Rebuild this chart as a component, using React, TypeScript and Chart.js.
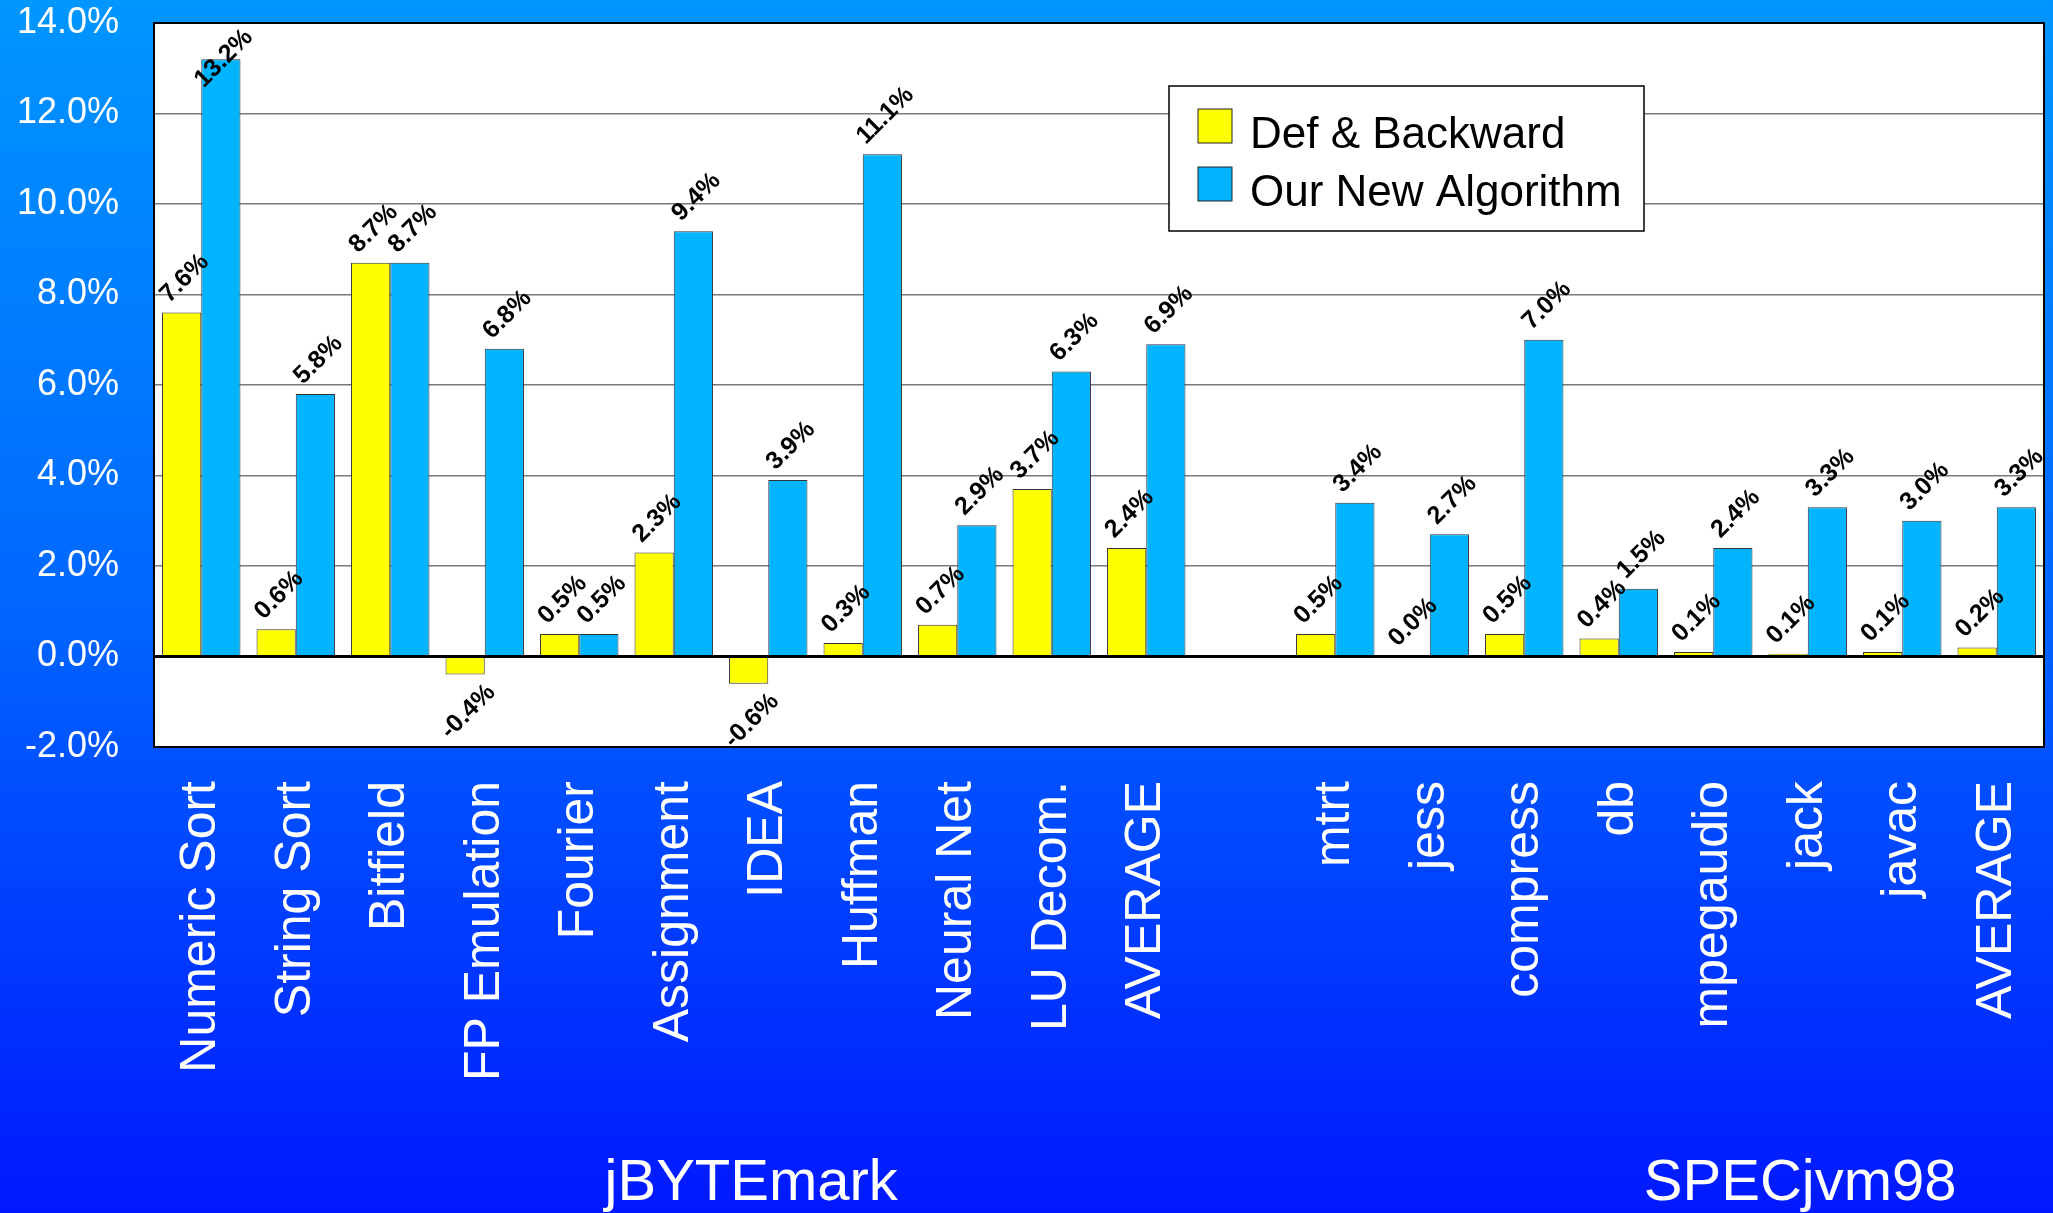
import { useEffect, useRef } from 'react';
import { Chart, registerables } from 'chart.js';

Chart.register(...registerables);

const categories = [
  'Numeric Sort', 'String Sort', 'Bitfield', 'FP Emulation', 'Fourier', 'Assignment', 'IDEA',
  'Huffman', 'Neural Net', 'LU Decom.', 'AVERAGE', '', 'mtrt', 'jess', 'compress', 'db',
  'mpegaudio', 'jack', 'javac', 'AVERAGE',
];
const defBackward = [7.6, 0.6, 8.7, -0.4, 0.5, 2.3, -0.6, 0.3, 0.7, 3.7, 2.4, null, 0.5, 0.0, 0.5, 0.4, 0.1, 0.06, 0.1, 0.2];
const ourNewAlgorithm = [13.2, 5.8, 8.7, 6.8, 0.5, 9.4, 3.9, 11.1, 2.9, 6.3, 6.9, null, 3.4, 2.7, 7.0, 1.5, 2.4, 3.3, 3.0, 3.3];
const seriesNames = ['Def & Backward', 'Our New Algorithm'];
const seriesColors = ['#FFFF00', '#00B4FF'];
const groupLabels = ['jBYTEmark', 'SPECjvm98'];
const yMin = -2;
const yMax = 14;
const yStep = 2;

const FONT = "'Liberation Sans', Arial, sans-serif";

const backgroundPlugin = {
  id: 'bgPlugin',
  beforeDraw(chart: any) {
    const { ctx, width, height, chartArea } = chart;
    ctx.save();
    const g = ctx.createLinearGradient(0, 0, 0, height);
    g.addColorStop(0, '#0096FF');
    g.addColorStop(0.5, '#0066FF');
    g.addColorStop(1, '#0018FF');
    ctx.fillStyle = g;
    ctx.fillRect(0, 0, width, height);
    ctx.fillStyle = '#FFFFFF';
    ctx.fillRect(chartArea.left, chartArea.top, chartArea.right - chartArea.left, chartArea.bottom - chartArea.top);
    ctx.restore();
  },
};

const labelsPlugin = {
  id: 'labelsPlugin',
  afterDatasetsDraw(chart: any) {
    const { ctx, chartArea } = chart;
    ctx.save();
    ctx.font = `bold 25px ${FONT}`;
    ctx.fillStyle = '#000000';
    ctx.textAlign = 'center';
    ctx.textBaseline = 'middle';
    chart.data.datasets.forEach((ds: any, di: number) => {
      const meta = chart.getDatasetMeta(di);
      meta.data.forEach((bar: any, i: number) => {
        const v = ds.data[i];
        if (v === null || v === undefined) return;
        const text = v.toFixed(1) + '%';
        const w = ctx.measureText(text).width;
        const half = (w + 18) * 0.354;
        let cy;
        if (v >= 0) {
          cy = bar.y - 14 - w * 0.354;
          cy = Math.max(cy, chartArea.top + half + 4);
        } else {
          cy = bar.y + 14 + w * 0.354;
        }
        const cx = bar.x + 3;
        ctx.save();
        ctx.translate(cx, cy);
        ctx.rotate(-Math.PI / 4);
        ctx.fillText(text, 0, 0);
        ctx.restore();
      });
    });
    ctx.restore();
  },
};

const overlayPlugin = {
  id: 'overlayPlugin',
  afterDraw(chart: any) {
    const { ctx, chartArea } = chart;
    ctx.save();
    ctx.strokeStyle = '#000000';
    ctx.lineWidth = 2;
    ctx.strokeRect(chartArea.left, chartArea.top, chartArea.right - chartArea.left, chartArea.bottom - chartArea.top);

    const lx = 1169, ly = 86, lw = 475, lh = 145;
    ctx.fillStyle = '#FFFFFF';
    ctx.fillRect(lx, ly, lw, lh);
    ctx.lineWidth = 1.5;
    ctx.strokeStyle = '#000000';
    ctx.strokeRect(lx, ly, lw, lh);
    ctx.font = `44px ${FONT}`;
    ctx.textAlign = 'left';
    ctx.textBaseline = 'alphabetic';
    seriesNames.forEach((name, i) => {
      const sy = 109 + i * 58;
      ctx.fillStyle = seriesColors[i];
      ctx.fillRect(1198, sy, 34, 34);
      ctx.lineWidth = 1;
      ctx.strokeStyle = '#222222';
      ctx.strokeRect(1198, sy, 34, 34);
      ctx.fillStyle = '#000000';
      ctx.fillText(name, 1250, 148 + i * 58);
    });

    ctx.font = `58px ${FONT}`;
    ctx.fillStyle = '#FFFFFF';
    ctx.textAlign = 'center';
    const aw = chartArea.right - chartArea.left;
    const fr = [0.316, 0.871];
    groupLabels.forEach((g, i) => {
      ctx.fillText(g, chartArea.left + aw * fr[i], 1200);
    });
    ctx.restore();
  },
};

export default function App() {
  const ref = useRef<HTMLCanvasElement | null>(null);
  useEffect(() => {
    document.body.style.margin = '0';
    const canvas = ref.current;
    if (!canvas) return;
    const chart = new Chart(canvas, {
      type: 'bar',
      data: {
        labels: categories,
        datasets: [
          {
            label: seriesNames[0],
            data: defBackward,
            backgroundColor: seriesColors[0],
            borderColor: '#333333',
            borderWidth: 1,
            categoryPercentage: 0.83,
            barPercentage: 1.0,
          },
          {
            label: seriesNames[1],
            data: ourNewAlgorithm,
            backgroundColor: seriesColors[1],
            borderColor: '#333333',
            borderWidth: 1,
            categoryPercentage: 0.83,
            barPercentage: 1.0,
          },
        ],
      },
      options: {
        responsive: false,
        animation: false,
        devicePixelRatio: 1,
        layout: { padding: { top: 23, right: 9, left: 0, bottom: 0 } },
        plugins: {
          legend: { display: false },
          tooltip: { enabled: false },
          title: { display: false },
        },
        scales: {
          x: {
            grid: { display: false, drawTicks: false },
            border: { display: false },
            ticks: {
              color: '#FFFFFF',
              font: { family: FONT, size: 50 },
              minRotation: 90,
              maxRotation: 90,
              autoSkip: false,
              padding: 34,
            },
            afterFit(scale: any) {
              scale.height = 466;
              scale.paddingLeft = 0;
              scale.paddingRight = 0;
            },
          },
          y: {
            min: yMin,
            max: yMax,
            border: { display: false },
            grid: {
              drawTicks: false,
              color: (c: any) => (c.tick && c.tick.value === 0 ? '#000000' : '#7A7A7A'),
              lineWidth: (c: any) => (c.tick && c.tick.value === 0 ? 3 : 1.5),
            },
            ticks: {
              stepSize: yStep,
              color: '#FFFFFF',
              font: { family: FONT, size: 36 },
              padding: 35,
              callback: (v: any) => Number(v).toFixed(1) + '%',
            },
            afterFit(scale: any) {
              scale.width = 154;
              scale.paddingTop = 0;
              scale.paddingBottom = 0;
            },
          },
        },
      },
      plugins: [backgroundPlugin, labelsPlugin, overlayPlugin],
    });
    return () => chart.destroy();
  }, []);
  return (
    <div style={{ width: 2053, height: 1213 }}>
      <canvas ref={ref} width={2053} height={1213} style={{ display: 'block', width: 2053, height: 1213 }} />
    </div>
  );
}
